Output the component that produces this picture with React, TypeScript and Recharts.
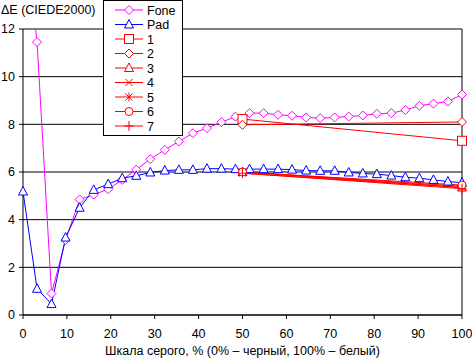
import React from "react"
import {
  LineChart,
  Line,
  XAxis,
  YAxis,
  CartesianGrid,
  ReferenceLine,
} from "recharts"

// grey level, %
const levels = [
  0, 3.2, 6.5, 9.7, 12.9, 16.1, 19.4, 22.6, 25.8, 29.0, 32.3, 35.5, 38.7, 41.9, 45.2, 48.4,
  51.6, 54.8, 58.1, 61.3, 64.5, 67.7, 71.0, 74.2, 77.4, 80.6, 83.9, 87.1, 90.3, 93.5, 96.8, 100,
]

const foneValues = [
  17, 11.45, 0.9, 3.15, 4.85, 5.05, 5.28, 5.67, 6.1, 6.54, 6.93, 7.28, 7.63, 7.84, 8.09, 8.32,
  8.47, 8.47, 8.4, 8.36, 8.29, 8.26, 8.29, 8.33, 8.37, 8.44, 8.47, 8.6, 8.78, 8.87, 8.96, 9.25,
]

const padValues = [
  5.18, 1.1, 0.46, 3.25, 4.5, 5.25, 5.49, 5.74, 5.84, 5.98, 6.06, 6.09, 6.09, 6.14, 6.14, 6.12,
  6.12, 6.12, 6.12, 6.1, 6.06, 6.05, 6.05, 5.98, 5.94, 5.91, 5.85, 5.78, 5.74, 5.67, 5.6, 5.55,
]

// the numbered series only have the 50% and 100% points
const shortLevels = [50, 100]
const series1 = [8.22, 7.31]
const series2 = [7.98, 8.1]
const series3 = [6.0, 5.35]
const series4 = [6.0, 5.4]
const series5 = [5.95, 5.35]
const series6 = [6.0, 5.45]
const series7 = [5.95, 5.3]

const xTicks = [0, 10, 20, 30, 40, 50, 60, 70, 80, 90, 100]
const yTicks = [0, 2, 4, 6, 8, 10, 12]

const FONT = "'Liberation Sans', Arial, sans-serif"
const MAGENTA = "#ff00ff"
const BLUE = "#0000ff"
const RED = "#ff0000"

type Shape = "diamond" | "triangle" | "square" | "x" | "asterisk" | "circle" | "plus"

const toPoints = (xs: number[], ys: number[]) => xs.map((x, i) => ({ x, y: ys[i] }))

const seriesList: { name: string; values: number[]; xs: number[]; color: string; shape: Shape }[] = [
  { name: "Fone", xs: levels, values: foneValues, color: MAGENTA, shape: "diamond" },
  { name: "Pad", xs: levels, values: padValues, color: BLUE, shape: "triangle" },
  { name: "1", xs: shortLevels, values: series1, color: RED, shape: "square" },
  { name: "2", xs: shortLevels, values: series2, color: RED, shape: "diamond" },
  { name: "3", xs: shortLevels, values: series3, color: RED, shape: "triangle" },
  { name: "4", xs: shortLevels, values: series4, color: RED, shape: "x" },
  { name: "5", xs: shortLevels, values: series5, color: RED, shape: "asterisk" },
  { name: "6", xs: shortLevels, values: series6, color: RED, shape: "circle" },
  { name: "7", xs: shortLevels, values: series7, color: RED, shape: "plus" },
]

function Marker({ shape, color, cx, cy }: { shape: Shape; color: string; cx: number; cy: number }) {
  const s = { stroke: color, strokeWidth: 1, fill: "#fff" }
  switch (shape) {
    case "diamond":
      return <polygon {...s} points={`${cx},${cy - 4.5} ${cx + 4.5},${cy} ${cx},${cy + 4.5} ${cx - 4.5},${cy}`} />
    case "triangle":
      return <polygon {...s} points={`${cx},${cy - 5} ${cx + 4.5},${cy + 3.5} ${cx - 4.5},${cy + 3.5}`} />
    case "square":
      return <rect {...s} x={cx - 4.5} y={cy - 4.5} width={9} height={9} />
    case "circle":
      return <circle {...s} cx={cx} cy={cy} r={4} />
    case "x":
      return (
        <g stroke={color} strokeWidth={1}>
          <line x1={cx - 3.5} y1={cy - 3.5} x2={cx + 3.5} y2={cy + 3.5} />
          <line x1={cx - 3.5} y1={cy + 3.5} x2={cx + 3.5} y2={cy - 3.5} />
        </g>
      )
    case "asterisk":
      return (
        <g stroke={color} strokeWidth={1}>
          <line x1={cx - 3.5} y1={cy - 3.5} x2={cx + 3.5} y2={cy + 3.5} />
          <line x1={cx - 3.5} y1={cy + 3.5} x2={cx + 3.5} y2={cy - 3.5} />
          <line x1={cx} y1={cy - 4.5} x2={cx} y2={cy + 4.5} />
        </g>
      )
    case "plus":
      return (
        <g stroke={color} strokeWidth={1}>
          <line x1={cx - 4.5} y1={cy} x2={cx + 4.5} y2={cy} />
          <line x1={cx} y1={cy - 5} x2={cx} y2={cy + 5} />
        </g>
      )
  }
}

const makeDot = (shape: Shape, color: string) => (props: any) => {
  const { cx, cy, index } = props
  if (cx == null || cy == null) return <g key={index} />
  return (
    <g key={index}>
      <Marker shape={shape} color={color} cx={cx} cy={cy} />
    </g>
  )
}

function LegendBox() {
  return (
    <div
      style={{
        position: "absolute",
        left: 103,
        top: 0,
        width: 80,
        height: 136,
        boxSizing: "border-box",
        border: "1px solid #000",
        background: "#fff",
      }}
    >
      <svg width={78} height={134}>
        {seriesList.map((s, i) => {
          const y = 9 + i * 14.5
          return (
            <g key={s.name}>
              <line x1={11} x2={39} y1={y} y2={y} stroke={s.color} strokeWidth={1} />
              <Marker shape={s.shape} color={s.color} cx={25} cy={y} />
              <text x={43} y={y} dy="0.36em" fontSize={12.5} fontFamily={FONT} fill="#000">
                {s.name}
              </text>
            </g>
          )
        })}
      </svg>
    </div>
  )
}

export default function App() {
  return (
    <div style={{ position: "absolute", left: 0, top: 0, width: 472, height: 358, background: "#fff", fontFamily: FONT }}>
      <LineChart width={472} height={358} margin={{ top: 29, right: 10, left: 0, bottom: 0 }}>
        <CartesianGrid vertical={false} stroke="#000" strokeWidth={1} />
        <XAxis
          type="number"
          dataKey="x"
          domain={[0, 100]}
          ticks={xTicks}
          allowDuplicatedCategory={false}
          stroke="#000"
          tickSize={4}
          tickMargin={10}
          height={43}
          tick={{ fontSize: 12.5, fill: "#000", fontFamily: FONT }}
          label={{
            value: "Шкала серого, % (0% – черный, 100% – белый)",
            position: "insideBottom",
            offset: 3,
            fontSize: 12.5,
            fill: "#000",
            fontFamily: FONT,
          }}
        />
        <YAxis
          type="number"
          domain={[0, 12]}
          ticks={yTicks}
          allowDataOverflow
          stroke="#000"
          width={23}
          tickSize={4}
          tickMargin={4}
          tick={{ fontSize: 12.5, fill: "#000", fontFamily: FONT }}
        />
        <ReferenceLine x={100} stroke="#000" strokeWidth={1} />
        {seriesList.map((s) => (
          <Line
            key={s.name}
            data={toPoints(s.xs, s.values)}
            dataKey="y"
            name={s.name}
            type="linear"
            stroke={s.color}
            strokeWidth={1}
            dot={makeDot(s.shape, s.color)}
            activeDot={false}
            isAnimationActive={false}
          />
        ))}
      </LineChart>
      <div style={{ position: "absolute", left: 1, top: 2, fontSize: 12.5, lineHeight: "16px", color: "#000" }}>
        ΔE (CIEDE2000)
      </div>
      <LegendBox />
    </div>
  )
}
